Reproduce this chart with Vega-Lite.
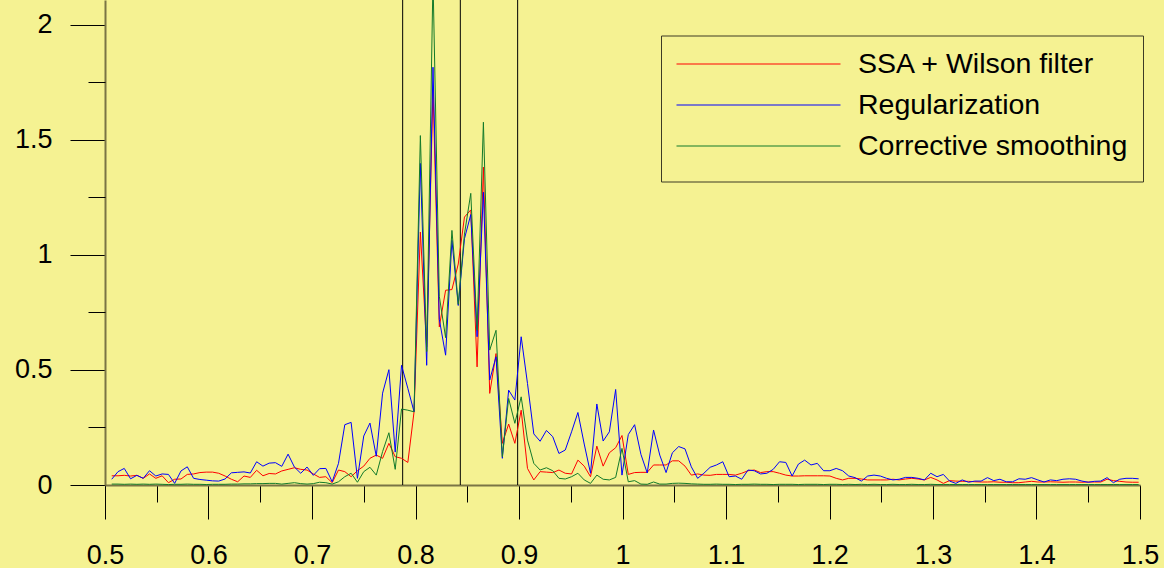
{
  "$schema": "https://vega.github.io/schema/vega-lite/v6.json",
  "width": 1035,
  "height": 485,
  "autosize": {"type": "none"},
  "padding": {"left": 105, "top": 0, "right": 24, "bottom": 83},
  "background": "#f5f292",
  "config": {
    "view": {"stroke": null},
    "font": "Liberation Sans",
    "axis": {
      "labelFont": "Liberation Sans",
      "labelColor": "#000000",
      "tickColor": "#000000",
      "tickWidth": 1,
      "grid": false,
      "title": null
    }
  },
  "datasets": {
    "spectra": [
      {"x":0.5065,"SSA + Wilson filter":0.040,"Regularization":0.025,"Corrective smoothing":0.004},
      {"x":0.5126,"SSA + Wilson filter":0.040,"Regularization":0.058,"Corrective smoothing":0.004},
      {"x":0.5186,"SSA + Wilson filter":0.042,"Regularization":0.072,"Corrective smoothing":0.003},
      {"x":0.5247,"SSA + Wilson filter":0.039,"Regularization":0.027,"Corrective smoothing":0.004},
      {"x":0.5308,"SSA + Wilson filter":0.042,"Regularization":0.042,"Corrective smoothing":0.003},
      {"x":0.5369,"SSA + Wilson filter":0.029,"Regularization":0.029,"Corrective smoothing":0.004},
      {"x":0.5430,"SSA + Wilson filter":0.048,"Regularization":0.062,"Corrective smoothing":0.003},
      {"x":0.5491,"SSA + Wilson filter":0.029,"Regularization":0.039,"Corrective smoothing":0.004},
      {"x":0.5552,"SSA + Wilson filter":0.040,"Regularization":0.048,"Corrective smoothing":0.003},
      {"x":0.5613,"SSA + Wilson filter":0.010,"Regularization":0.046,"Corrective smoothing":0.002},
      {"x":0.5673,"SSA + Wilson filter":0.025,"Regularization":0.007,"Corrective smoothing":0.003},
      {"x":0.5734,"SSA + Wilson filter":0.026,"Regularization":0.061,"Corrective smoothing":0.003},
      {"x":0.5795,"SSA + Wilson filter":0.046,"Regularization":0.079,"Corrective smoothing":0.004},
      {"x":0.5856,"SSA + Wilson filter":0.048,"Regularization":0.029,"Corrective smoothing":0.003},
      {"x":0.5917,"SSA + Wilson filter":0.054,"Regularization":0.024,"Corrective smoothing":0.003},
      {"x":0.5978,"SSA + Wilson filter":0.056,"Regularization":0.021,"Corrective smoothing":0.002},
      {"x":0.6039,"SSA + Wilson filter":0.056,"Regularization":0.018,"Corrective smoothing":0.003},
      {"x":0.6099,"SSA + Wilson filter":0.051,"Regularization":0.017,"Corrective smoothing":0.003},
      {"x":0.6160,"SSA + Wilson filter":0.039,"Regularization":0.026,"Corrective smoothing":0.003},
      {"x":0.6221,"SSA + Wilson filter":0.025,"Regularization":0.053,"Corrective smoothing":0.004},
      {"x":0.6282,"SSA + Wilson filter":0.014,"Regularization":0.055,"Corrective smoothing":0.004},
      {"x":0.6343,"SSA + Wilson filter":0.039,"Regularization":0.057,"Corrective smoothing":0.005},
      {"x":0.6404,"SSA + Wilson filter":0.033,"Regularization":0.052,"Corrective smoothing":0.005},
      {"x":0.6465,"SSA + Wilson filter":0.064,"Regularization":0.101,"Corrective smoothing":0.006},
      {"x":0.6526,"SSA + Wilson filter":0.040,"Regularization":0.082,"Corrective smoothing":0.006},
      {"x":0.6586,"SSA + Wilson filter":0.050,"Regularization":0.095,"Corrective smoothing":0.007},
      {"x":0.6647,"SSA + Wilson filter":0.048,"Regularization":0.097,"Corrective smoothing":0.007},
      {"x":0.6708,"SSA + Wilson filter":0.061,"Regularization":0.081,"Corrective smoothing":0.004},
      {"x":0.6769,"SSA + Wilson filter":0.068,"Regularization":0.134,"Corrective smoothing":0.007},
      {"x":0.6830,"SSA + Wilson filter":0.075,"Regularization":0.078,"Corrective smoothing":0.010},
      {"x":0.6891,"SSA + Wilson filter":0.068,"Regularization":0.051,"Corrective smoothing":0.006},
      {"x":0.6952,"SSA + Wilson filter":0.065,"Regularization":0.078,"Corrective smoothing":0.004},
      {"x":0.7013,"SSA + Wilson filter":0.048,"Regularization":0.042,"Corrective smoothing":0.006},
      {"x":0.7073,"SSA + Wilson filter":0.033,"Regularization":0.071,"Corrective smoothing":0.012},
      {"x":0.7134,"SSA + Wilson filter":0.036,"Regularization":0.072,"Corrective smoothing":0.010},
      {"x":0.7195,"SSA + Wilson filter":0.010,"Regularization":0.014,"Corrective smoothing":0.004},
      {"x":0.7256,"SSA + Wilson filter":0.065,"Regularization":0.094,"Corrective smoothing":0.014},
      {"x":0.7317,"SSA + Wilson filter":0.058,"Regularization":0.262,"Corrective smoothing":0.036},
      {"x":0.7378,"SSA + Wilson filter":0.036,"Regularization":0.272,"Corrective smoothing":0.051},
      {"x":0.7439,"SSA + Wilson filter":0.062,"Regularization":0.029,"Corrective smoothing":0.012},
      {"x":0.7500,"SSA + Wilson filter":0.082,"Regularization":0.213,"Corrective smoothing":0.058},
      {"x":0.7560,"SSA + Wilson filter":0.116,"Regularization":0.269,"Corrective smoothing":0.077},
      {"x":0.7621,"SSA + Wilson filter":0.130,"Regularization":0.125,"Corrective smoothing":0.043},
      {"x":0.7682,"SSA + Wilson filter":0.116,"Regularization":0.399,"Corrective smoothing":0.145},
      {"x":0.7743,"SSA + Wilson filter":0.181,"Regularization":0.501,"Corrective smoothing":0.227},
      {"x":0.7804,"SSA + Wilson filter":0.123,"Regularization":0.143,"Corrective smoothing":0.068},
      {"x":0.7865,"SSA + Wilson filter":0.116,"Regularization":0.520,"Corrective smoothing":0.330},
      {"x":0.7926,"SSA + Wilson filter":0.098,"Regularization":0.420,"Corrective smoothing":0.325},
      {"x":0.7986,"SSA + Wilson filter":0.318,"Regularization":0.318,"Corrective smoothing":0.318},
      {"x":0.8047,"SSA + Wilson filter":1.099,"Regularization":1.397,"Corrective smoothing":1.518},
      {"x":0.8108,"SSA + Wilson filter":0.600,"Regularization":0.520,"Corrective smoothing":0.580},
      {"x":0.8169,"SSA + Wilson filter":1.720,"Regularization":1.815,"Corrective smoothing":2.200},
      {"x":0.8230,"SSA + Wilson filter":0.687,"Regularization":0.720,"Corrective smoothing":0.820},
      {"x":0.8291,"SSA + Wilson filter":0.846,"Regularization":0.564,"Corrective smoothing":0.640},
      {"x":0.8352,"SSA + Wilson filter":0.849,"Regularization":1.063,"Corrective smoothing":1.106},
      {"x":0.8413,"SSA + Wilson filter":0.960,"Regularization":0.780,"Corrective smoothing":0.785},
      {"x":0.8473,"SSA + Wilson filter":1.164,"Regularization":1.070,"Corrective smoothing":1.090},
      {"x":0.8534,"SSA + Wilson filter":1.195,"Regularization":1.175,"Corrective smoothing":1.267},
      {"x":0.8595,"SSA + Wilson filter":0.513,"Regularization":0.644,"Corrective smoothing":0.672},
      {"x":0.8656,"SSA + Wilson filter":1.381,"Regularization":1.272,"Corrective smoothing":1.576},
      {"x":0.8717,"SSA + Wilson filter":0.398,"Regularization":0.456,"Corrective smoothing":0.586},
      {"x":0.8778,"SSA + Wilson filter":0.571,"Regularization":0.557,"Corrective smoothing":0.672},
      {"x":0.8839,"SSA + Wilson filter":0.181,"Regularization":0.116,"Corrective smoothing":0.123},
      {"x":0.8900,"SSA + Wilson filter":0.265,"Regularization":0.412,"Corrective smoothing":0.376},
      {"x":0.8960,"SSA + Wilson filter":0.181,"Regularization":0.369,"Corrective smoothing":0.268},
      {"x":0.9021,"SSA + Wilson filter":0.325,"Regularization":0.644,"Corrective smoothing":0.383},
      {"x":0.9082,"SSA + Wilson filter":0.072,"Regularization":0.441,"Corrective smoothing":0.195},
      {"x":0.9143,"SSA + Wilson filter":0.022,"Regularization":0.222,"Corrective smoothing":0.094},
      {"x":0.9204,"SSA + Wilson filter":0.058,"Regularization":0.190,"Corrective smoothing":0.065},
      {"x":0.9265,"SSA + Wilson filter":0.056,"Regularization":0.237,"Corrective smoothing":0.075},
      {"x":0.9326,"SSA + Wilson filter":0.054,"Regularization":0.210,"Corrective smoothing":0.062},
      {"x":0.9386,"SSA + Wilson filter":0.065,"Regularization":0.137,"Corrective smoothing":0.029},
      {"x":0.9447,"SSA + Wilson filter":0.051,"Regularization":0.152,"Corrective smoothing":0.026},
      {"x":0.9508,"SSA + Wilson filter":0.048,"Regularization":0.231,"Corrective smoothing":0.036},
      {"x":0.9569,"SSA + Wilson filter":0.108,"Regularization":0.315,"Corrective smoothing":0.051},
      {"x":0.9630,"SSA + Wilson filter":0.082,"Regularization":0.178,"Corrective smoothing":0.022},
      {"x":0.9691,"SSA + Wilson filter":0.036,"Regularization":0.051,"Corrective smoothing":0.007},
      {"x":0.9752,"SSA + Wilson filter":0.169,"Regularization":0.352,"Corrective smoothing":0.043},
      {"x":0.9813,"SSA + Wilson filter":0.082,"Regularization":0.191,"Corrective smoothing":0.025},
      {"x":0.9873,"SSA + Wilson filter":0.140,"Regularization":0.231,"Corrective smoothing":0.022},
      {"x":0.9934,"SSA + Wilson filter":0.162,"Regularization":0.415,"Corrective smoothing":0.033},
      {"x":0.9995,"SSA + Wilson filter":0.215,"Regularization":0.043,"Corrective smoothing":0.159},
      {"x":1.0056,"SSA + Wilson filter":0.046,"Regularization":0.219,"Corrective smoothing":0.014},
      {"x":1.0117,"SSA + Wilson filter":0.054,"Regularization":0.262,"Corrective smoothing":0.019},
      {"x":1.0178,"SSA + Wilson filter":0.055,"Regularization":0.133,"Corrective smoothing":0.004},
      {"x":1.0239,"SSA + Wilson filter":0.055,"Regularization":0.052,"Corrective smoothing":0.003},
      {"x":1.0300,"SSA + Wilson filter":0.087,"Regularization":0.239,"Corrective smoothing":0.013},
      {"x":1.0360,"SSA + Wilson filter":0.087,"Regularization":0.130,"Corrective smoothing":0.004},
      {"x":1.0421,"SSA + Wilson filter":0.087,"Regularization":0.054,"Corrective smoothing":0.004},
      {"x":1.0482,"SSA + Wilson filter":0.105,"Regularization":0.140,"Corrective smoothing":0.007},
      {"x":1.0543,"SSA + Wilson filter":0.105,"Regularization":0.167,"Corrective smoothing":0.008},
      {"x":1.0604,"SSA + Wilson filter":0.082,"Regularization":0.157,"Corrective smoothing":0.007},
      {"x":1.0665,"SSA + Wilson filter":0.043,"Regularization":0.079,"Corrective smoothing":0.005},
      {"x":1.0726,"SSA + Wilson filter":0.048,"Regularization":0.029,"Corrective smoothing":0.004},
      {"x":1.0786,"SSA + Wilson filter":0.043,"Regularization":0.051,"Corrective smoothing":0.003},
      {"x":1.0847,"SSA + Wilson filter":0.042,"Regularization":0.077,"Corrective smoothing":0.003},
      {"x":1.0908,"SSA + Wilson filter":0.046,"Regularization":0.087,"Corrective smoothing":0.004},
      {"x":1.0969,"SSA + Wilson filter":0.046,"Regularization":0.101,"Corrective smoothing":0.003},
      {"x":1.1030,"SSA + Wilson filter":0.046,"Regularization":0.036,"Corrective smoothing":0.003},
      {"x":1.1091,"SSA + Wilson filter":0.043,"Regularization":0.039,"Corrective smoothing":0.002},
      {"x":1.1152,"SSA + Wilson filter":0.051,"Regularization":0.025,"Corrective smoothing":0.003},
      {"x":1.1213,"SSA + Wilson filter":0.062,"Regularization":0.065,"Corrective smoothing":0.003},
      {"x":1.1273,"SSA + Wilson filter":0.065,"Regularization":0.062,"Corrective smoothing":0.004},
      {"x":1.1334,"SSA + Wilson filter":0.054,"Regularization":0.048,"Corrective smoothing":0.003},
      {"x":1.1395,"SSA + Wilson filter":0.058,"Regularization":0.051,"Corrective smoothing":0.003},
      {"x":1.1456,"SSA + Wilson filter":0.058,"Regularization":0.068,"Corrective smoothing":0.002},
      {"x":1.1517,"SSA + Wilson filter":0.051,"Regularization":0.101,"Corrective smoothing":0.003},
      {"x":1.1578,"SSA + Wilson filter":0.043,"Regularization":0.098,"Corrective smoothing":0.003},
      {"x":1.1639,"SSA + Wilson filter":0.039,"Regularization":0.039,"Corrective smoothing":0.003},
      {"x":1.1700,"SSA + Wilson filter":0.039,"Regularization":0.091,"Corrective smoothing":0.002},
      {"x":1.1760,"SSA + Wilson filter":0.040,"Regularization":0.108,"Corrective smoothing":0.003},
      {"x":1.1821,"SSA + Wilson filter":0.040,"Regularization":0.087,"Corrective smoothing":0.003},
      {"x":1.1882,"SSA + Wilson filter":0.040,"Regularization":0.094,"Corrective smoothing":0.003},
      {"x":1.1943,"SSA + Wilson filter":0.040,"Regularization":0.062,"Corrective smoothing":0.002},
      {"x":1.2004,"SSA + Wilson filter":0.039,"Regularization":0.062,"Corrective smoothing":0.003},
      {"x":1.2065,"SSA + Wilson filter":0.029,"Regularization":0.072,"Corrective smoothing":0.003},
      {"x":1.2126,"SSA + Wilson filter":0.022,"Regularization":0.062,"Corrective smoothing":0.002},
      {"x":1.2186,"SSA + Wilson filter":0.029,"Regularization":0.039,"Corrective smoothing":0.003},
      {"x":1.2247,"SSA + Wilson filter":0.029,"Regularization":0.032,"Corrective smoothing":0.002},
      {"x":1.2308,"SSA + Wilson filter":0.026,"Regularization":0.017,"Corrective smoothing":0.003},
      {"x":1.2369,"SSA + Wilson filter":0.022,"Regularization":0.039,"Corrective smoothing":0.002},
      {"x":1.2430,"SSA + Wilson filter":0.022,"Regularization":0.043,"Corrective smoothing":0.003},
      {"x":1.2491,"SSA + Wilson filter":0.022,"Regularization":0.039,"Corrective smoothing":0.002},
      {"x":1.2552,"SSA + Wilson filter":0.022,"Regularization":0.029,"Corrective smoothing":0.002},
      {"x":1.2613,"SSA + Wilson filter":0.025,"Regularization":0.022,"Corrective smoothing":0.003},
      {"x":1.2673,"SSA + Wilson filter":0.022,"Regularization":0.025,"Corrective smoothing":0.002},
      {"x":1.2734,"SSA + Wilson filter":0.026,"Regularization":0.033,"Corrective smoothing":0.002},
      {"x":1.2795,"SSA + Wilson filter":0.029,"Regularization":0.033,"Corrective smoothing":0.003},
      {"x":1.2856,"SSA + Wilson filter":0.026,"Regularization":0.029,"Corrective smoothing":0.002},
      {"x":1.2917,"SSA + Wilson filter":0.022,"Regularization":0.022,"Corrective smoothing":0.002},
      {"x":1.2978,"SSA + Wilson filter":0.033,"Regularization":0.051,"Corrective smoothing":0.003},
      {"x":1.3039,"SSA + Wilson filter":0.022,"Regularization":0.036,"Corrective smoothing":0.002},
      {"x":1.3100,"SSA + Wilson filter":0.007,"Regularization":0.046,"Corrective smoothing":0.002},
      {"x":1.3160,"SSA + Wilson filter":0.019,"Regularization":0.017,"Corrective smoothing":0.002},
      {"x":1.3221,"SSA + Wilson filter":0.017,"Regularization":0.007,"Corrective smoothing":0.002},
      {"x":1.3282,"SSA + Wilson filter":0.016,"Regularization":0.022,"Corrective smoothing":0.002},
      {"x":1.3343,"SSA + Wilson filter":0.016,"Regularization":0.012,"Corrective smoothing":0.002},
      {"x":1.3404,"SSA + Wilson filter":0.014,"Regularization":0.017,"Corrective smoothing":0.002},
      {"x":1.3465,"SSA + Wilson filter":0.013,"Regularization":0.017,"Corrective smoothing":0.002},
      {"x":1.3526,"SSA + Wilson filter":0.013,"Regularization":0.032,"Corrective smoothing":0.002},
      {"x":1.3587,"SSA + Wilson filter":0.014,"Regularization":0.019,"Corrective smoothing":0.002},
      {"x":1.3647,"SSA + Wilson filter":0.012,"Regularization":0.025,"Corrective smoothing":0.002},
      {"x":1.3708,"SSA + Wilson filter":0.012,"Regularization":0.014,"Corrective smoothing":0.002},
      {"x":1.3769,"SSA + Wilson filter":0.010,"Regularization":0.014,"Corrective smoothing":0.002},
      {"x":1.3830,"SSA + Wilson filter":0.010,"Regularization":0.027,"Corrective smoothing":0.002},
      {"x":1.3891,"SSA + Wilson filter":0.013,"Regularization":0.025,"Corrective smoothing":0.002},
      {"x":1.3952,"SSA + Wilson filter":0.016,"Regularization":0.032,"Corrective smoothing":0.002},
      {"x":1.4013,"SSA + Wilson filter":0.013,"Regularization":0.022,"Corrective smoothing":0.002},
      {"x":1.4073,"SSA + Wilson filter":0.013,"Regularization":0.013,"Corrective smoothing":0.002},
      {"x":1.4134,"SSA + Wilson filter":0.014,"Regularization":0.022,"Corrective smoothing":0.002},
      {"x":1.4195,"SSA + Wilson filter":0.013,"Regularization":0.019,"Corrective smoothing":0.002},
      {"x":1.4256,"SSA + Wilson filter":0.012,"Regularization":0.025,"Corrective smoothing":0.002},
      {"x":1.4317,"SSA + Wilson filter":0.013,"Regularization":0.027,"Corrective smoothing":0.002},
      {"x":1.4378,"SSA + Wilson filter":0.013,"Regularization":0.025,"Corrective smoothing":0.002},
      {"x":1.4439,"SSA + Wilson filter":0.012,"Regularization":0.017,"Corrective smoothing":0.002},
      {"x":1.4500,"SSA + Wilson filter":0.013,"Regularization":0.012,"Corrective smoothing":0.002},
      {"x":1.4560,"SSA + Wilson filter":0.013,"Regularization":0.016,"Corrective smoothing":0.002},
      {"x":1.4621,"SSA + Wilson filter":0.013,"Regularization":0.017,"Corrective smoothing":0.002},
      {"x":1.4682,"SSA + Wilson filter":0.025,"Regularization":0.032,"Corrective smoothing":0.002},
      {"x":1.4743,"SSA + Wilson filter":0.019,"Regularization":0.010,"Corrective smoothing":0.002},
      {"x":1.4804,"SSA + Wilson filter":0.016,"Regularization":0.025,"Corrective smoothing":0.002},
      {"x":1.4865,"SSA + Wilson filter":0.013,"Regularization":0.029,"Corrective smoothing":0.002},
      {"x":1.4926,"SSA + Wilson filter":0.012,"Regularization":0.029,"Corrective smoothing":0.002},
      {"x":1.4987,"SSA + Wilson filter":0.012,"Regularization":0.027,"Corrective smoothing":0.002}
    ],
    "markers": [{"x": 0.7876}, {"x": 0.8433}, {"x": 0.8987}],
    "yrange": [{"v": 0}, {"v": 2}]
  },
  "layer": [
    {
      "data": {"name": "markers"},
      "mark": {"type": "rule", "color": "#000000", "strokeWidth": 1},
      "encoding": {
        "x": {
          "field": "x",
          "type": "quantitative",
          "scale": {"domain": [0.5, 1.5], "nice": false, "zero": false},
          "axis": {
            "orient": "bottom",
            "values": [0.55, 0.65, 0.75, 0.85, 0.95, 1.05, 1.15, 1.25, 1.35, 1.45],
            "tickSize": 17,
            "labels": false,
            "domain": false
          }
        }
      }
    },
    {
      "data": {"name": "spectra"},
      "transform": [
        {"fold": ["SSA + Wilson filter", "Regularization", "Corrective smoothing"], "as": ["method", "value"]}
      ],
      "mark": {"type": "line", "strokeWidth": 1, "clip": true},
      "encoding": {
        "x": {
          "field": "x",
          "type": "quantitative",
          "axis": {
            "orient": "bottom",
            "values": [0.5, 0.6, 0.7, 0.8, 0.9, 1, 1.1, 1.2, 1.3, 1.4, 1.5],
            "format": "~g",
            "tickSize": 34,
            "labelPadding": 23,
            "labelFontSize": 27,
            "labelFlush": false,
            "labelOverlap": false,
            "domainColor": "#7a7545",
            "domainWidth": 2
          }
        },
        "y": {
          "field": "value",
          "type": "quantitative",
          "scale": {"domain": [0, 2.107], "nice": false, "zero": false},
          "axis": {
            "orient": "left",
            "values": [0, 0.5, 1, 1.5, 2],
            "format": "~g",
            "tickSize": 35,
            "labelPadding": 18,
            "labelFontSize": 27,
            "labelOverlap": false,
            "domainColor": "#7a7545",
            "domainWidth": 2
          }
        },
        "color": {
          "field": "method",
          "type": "nominal",
          "scale": {
            "domain": ["SSA + Wilson filter", "Regularization", "Corrective smoothing"],
            "range": ["#ff0000", "#0000ff", "#137a2a"]
          },
          "legend": {
            "orient": "none",
            "legendX": 556,
            "legendY": 35.5,
            "title": " ",
            "titleOrient": "bottom",
            "titleFontSize": 2,
            "titlePadding": 4,
            "padding": 15,
            "strokeColor": "#3d3b25",
            "fillColor": null,
            "symbolType": "stroke",
            "symbolSize": 26896,
            "symbolStrokeWidth": 1,
            "labelFont": "Liberation Sans",
            "labelFontSize": 28.5,
            "labelColor": "#000000",
            "labelOffset": 17,
            "labelLimit": 500,
            "rowPadding": 12,
            "clipHeight": 27
          }
        }
      }
    },
    {
      "data": {"name": "yrange"},
      "mark": {"type": "point", "opacity": 0},
      "encoding": {
        "y": {
          "field": "v",
          "type": "quantitative",
          "axis": {
            "orient": "left",
            "values": [0.25, 0.75, 1.25, 1.75],
            "tickSize": 17,
            "labels": false,
            "domain": false
          }
        }
      }
    }
  ],
  "resolve": {"axis": {"x": "independent", "y": "independent"}}
}
